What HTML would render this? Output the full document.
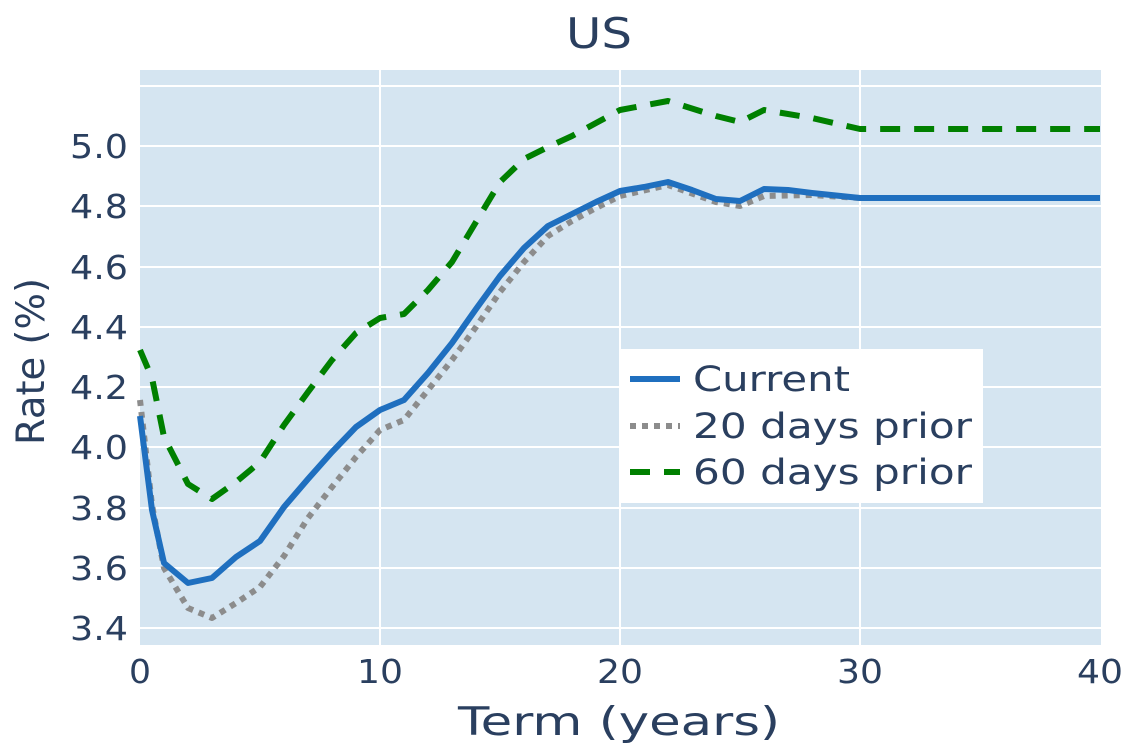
<!DOCTYPE html>
<html><head><meta charset="utf-8"><style>html,body{margin:0;padding:0;background:#fff}svg{display:block}text{font-family:"DejaVu Sans","Liberation Sans",sans-serif;fill:#2a3f5f}</style></head><body>
<svg width="1137" height="754" viewBox="0 0 1137 754">
<rect x="140" y="70" width="961" height="575" fill="#d5e5f1"/>
<g stroke="#fff" stroke-width="2">
<line x1="140" x2="1101" y1="86" y2="86"/><line x1="140" x2="1101" y1="146" y2="146"/><line x1="140" x2="1101" y1="206" y2="206"/><line x1="140" x2="1101" y1="267" y2="267"/><line x1="140" x2="1101" y1="327" y2="327"/><line x1="140" x2="1101" y1="387" y2="387"/><line x1="140" x2="1101" y1="447" y2="447"/><line x1="140" x2="1101" y1="508" y2="508"/><line x1="140" x2="1101" y1="568" y2="568"/><line x1="140" x2="1101" y1="628" y2="628"/>
<line x1="380" x2="380" y1="70" y2="645"/><line x1="620" x2="620" y1="70" y2="645"/><line x1="860" x2="860" y1="70" y2="645"/>
</g>
<g fill="none" stroke-linejoin="round">
<polyline stroke="#8c8c8c" stroke-width="6" stroke-dasharray="6,6" points="140,400 152,505 164,568 188,608 212,618 236,603 260,587 284,556 308,518 332,487 356,457 380,430 404,420 428,390 452,360 476,327 500,292 524,262 548,236 572,221 596,208 620,196 668,185 716,202 740,206 764,196 812,195 860,198 1100,198"/>
<polyline stroke="#1f6fbf" stroke-width="6" points="140,416 152,510 164,563 188,583 212,578 236,557 260,541 284,507 308,479 332,452 356,427 380,410 404,400 428,373 452,343 476,309 500,276 524,248 548,226 572,214 596,202 620,191 644,187 668,182 692,190 716,199 740,201 764,189 788,190 812,193 860,198 1100,198"/>
<polyline stroke="#008000" stroke-width="6" stroke-dasharray="20,14" points="140,350 152,378 164,437 188,484 212,499 236,482 260,462 284,425 308,392 332,360 356,333 380,318 404,314 428,290 452,262 476,222 500,182 524,159 548,147 572,136 596,123 620,110 668,101 716,116 740,122 764,110 812,118 860,129 1100,129"/>
</g>
<rect x="620" y="349" width="363" height="154" fill="#fff"/>
<line x1="630" x2="680" y1="379" y2="379" stroke="#1f6fbf" stroke-width="6"/>
<line x1="630" x2="680" y1="426" y2="426" stroke="#8c8c8c" stroke-width="6" stroke-dasharray="6,6"/>
<line x1="630" x2="680" y1="472" y2="472" stroke="#008000" stroke-width="6" stroke-dasharray="20,14"/>
<text x="693" y="391" font-size="35" textLength="157" lengthAdjust="spacingAndGlyphs">Current</text>
<text x="693" y="438" font-size="35" textLength="279" lengthAdjust="spacingAndGlyphs">20 days prior</text>
<text x="693" y="484" font-size="35" textLength="279" lengthAdjust="spacingAndGlyphs">60 days prior</text>
<text x="566" y="48" font-size="42" textLength="66" lengthAdjust="spacingAndGlyphs">US</text>
<g font-size="33">
<text x="70" y="158" textLength="58" lengthAdjust="spacingAndGlyphs">5.0</text><text x="70" y="218" textLength="58" lengthAdjust="spacingAndGlyphs">4.8</text><text x="70" y="279" textLength="58" lengthAdjust="spacingAndGlyphs">4.6</text><text x="70" y="339" textLength="58" lengthAdjust="spacingAndGlyphs">4.4</text><text x="70" y="399" textLength="58" lengthAdjust="spacingAndGlyphs">4.2</text><text x="70" y="459" textLength="58" lengthAdjust="spacingAndGlyphs">4.0</text><text x="70" y="520" textLength="58" lengthAdjust="spacingAndGlyphs">3.8</text><text x="70" y="580" textLength="58" lengthAdjust="spacingAndGlyphs">3.6</text><text x="70" y="640" textLength="58" lengthAdjust="spacingAndGlyphs">3.4</text>
</g>
<g font-size="33">
<text x="129" y="683" textLength="22" lengthAdjust="spacingAndGlyphs">0</text><text x="357" y="683" textLength="46" lengthAdjust="spacingAndGlyphs">10</text><text x="597" y="683" textLength="46" lengthAdjust="spacingAndGlyphs">20</text><text x="837" y="683" textLength="46" lengthAdjust="spacingAndGlyphs">30</text><text x="1077" y="683" textLength="46" lengthAdjust="spacingAndGlyphs">40</text>
</g>
<text x="458" y="735" font-size="39" textLength="322" lengthAdjust="spacingAndGlyphs">Term (years)</text>
<text transform="translate(44,445) rotate(-90)" font-size="39" textLength="167" lengthAdjust="spacingAndGlyphs">Rate (%)</text>
</svg>
</body></html>
